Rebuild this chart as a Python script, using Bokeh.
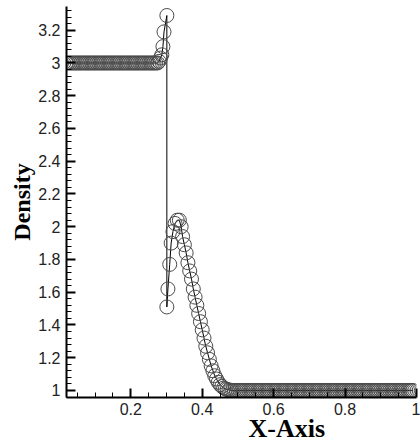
from bokeh.plotting import figure
from bokeh.models import FixedTicker, CustomJSTickFormatter, Title, ColumnDataSource
from bokeh.embed import file_html
from bokeh.resources import INLINE

# --- data ---
x_left_state = [
    0.020, 0.025, 0.030, 0.035, 0.040, 0.045, 0.050, 0.055, 0.060, 0.065, 0.070, 0.075, 0.080,
    0.085, 0.090, 0.095, 0.100, 0.105, 0.110, 0.115, 0.120, 0.125, 0.130, 0.135, 0.140, 0.145,
    0.150, 0.155, 0.160, 0.165, 0.170, 0.175, 0.180, 0.185, 0.190, 0.195, 0.200, 0.205, 0.210,
    0.215, 0.220, 0.225, 0.230, 0.235, 0.240, 0.245, 0.250, 0.255, 0.260, 0.265, 0.270, 0.275,
]
rho_left_state = [
    3.0, 3.0, 3.0, 3.0, 3.0, 3.0, 3.0, 3.0, 3.0, 3.0, 3.0, 3.0, 3.0,
    3.0, 3.0, 3.0, 3.0, 3.0, 3.0, 3.0, 3.0, 3.0, 3.0, 3.0, 3.0, 3.0,
    3.0, 3.0, 3.0, 3.0, 3.0, 3.0, 3.0, 3.0, 3.0, 3.0, 3.0, 3.0, 3.0,
    3.0, 3.0, 3.0, 3.0, 3.0, 3.0, 3.0, 3.0, 3.0, 3.0, 3.0, 3.0, 3.0,
]
x_wave = [
    0.279, 0.283, 0.287, 0.290, 0.293, 0.301, 0.301, 0.304, 0.309, 0.313, 0.318, 0.324,
    0.330, 0.336, 0.341, 0.345, 0.350, 0.355, 0.360, 0.365, 0.370, 0.375, 0.380, 0.385,
    0.390, 0.395, 0.400, 0.405, 0.410, 0.415, 0.420, 0.425, 0.430, 0.435, 0.440, 0.445,
    0.450, 0.455, 0.460, 0.465, 0.470, 0.475, 0.480, 0.485,
]
rho_wave = [
    3.01, 3.03, 3.05, 3.10, 3.19, 3.29, 1.51, 1.62, 1.77, 1.90, 1.97, 2.02,
    2.04, 2.04, 2.00, 1.94, 1.89, 1.84, 1.78, 1.73, 1.68, 1.62, 1.57, 1.52,
    1.47, 1.42, 1.37, 1.32, 1.27, 1.23, 1.19, 1.15, 1.12, 1.09, 1.07, 1.05,
    1.035, 1.025, 1.015, 1.01, 1.006, 1.003, 1.001, 1.0,
]
x_right_state = [
    0.490, 0.495, 0.500, 0.505, 0.510, 0.515, 0.520, 0.525, 0.530, 0.535,
    0.540, 0.545, 0.550, 0.555, 0.560, 0.565, 0.570, 0.575, 0.580, 0.585,
    0.590, 0.595, 0.600, 0.605, 0.610, 0.615, 0.620, 0.625, 0.630, 0.635,
    0.640, 0.645, 0.650, 0.655, 0.660, 0.665, 0.670, 0.675, 0.680, 0.685,
    0.690, 0.695, 0.700, 0.705, 0.710, 0.715, 0.720, 0.725, 0.730, 0.735,
    0.740, 0.745, 0.750, 0.755, 0.760, 0.765, 0.770, 0.775, 0.780, 0.785,
    0.790, 0.795, 0.800, 0.805, 0.810, 0.815, 0.820, 0.825, 0.830, 0.835,
    0.840, 0.845, 0.850, 0.855, 0.860, 0.865, 0.870, 0.875, 0.880, 0.885,
    0.890, 0.895, 0.900, 0.905, 0.910, 0.915, 0.920, 0.925, 0.930, 0.935,
    0.940, 0.945, 0.950, 0.955, 0.960, 0.965, 0.970, 0.975, 0.980, 0.985,
    0.990,
]
rho_right_state = [
    1.0, 1.0, 1.0, 1.0, 1.0, 1.0, 1.0, 1.0, 1.0, 1.0,
    1.0, 1.0, 1.0, 1.0, 1.0, 1.0, 1.0, 1.0, 1.0, 1.0,
    1.0, 1.0, 1.0, 1.0, 1.0, 1.0, 1.0, 1.0, 1.0, 1.0,
    1.0, 1.0, 1.0, 1.0, 1.0, 1.0, 1.0, 1.0, 1.0, 1.0,
    1.0, 1.0, 1.0, 1.0, 1.0, 1.0, 1.0, 1.0, 1.0, 1.0,
    1.0, 1.0, 1.0, 1.0, 1.0, 1.0, 1.0, 1.0, 1.0, 1.0,
    1.0, 1.0, 1.0, 1.0, 1.0, 1.0, 1.0, 1.0, 1.0, 1.0,
    1.0, 1.0, 1.0, 1.0, 1.0, 1.0, 1.0, 1.0, 1.0, 1.0,
    1.0, 1.0, 1.0, 1.0, 1.0, 1.0, 1.0, 1.0, 1.0, 1.0,
    1.0, 1.0, 1.0, 1.0, 1.0, 1.0, 1.0, 1.0, 1.0, 1.0,
    1.0,
]

x_ticks = [0.2, 0.4, 0.6, 0.8, 1.0]
x_minor = [0.05, 0.10, 0.15, 0.25, 0.30, 0.35, 0.45, 0.50, 0.55, 0.65, 0.70, 0.75, 0.85, 0.90, 0.95]
y_ticks = [1.0, 1.2, 1.4, 1.6, 1.8, 2.0, 2.2, 2.4, 2.6, 2.8, 3.0, 3.2]
y_minor = [0.96 + 0.04 * i for i in range(60)]

x_all = x_left_state + x_wave + x_right_state
rho_all = rho_left_state + rho_wave + rho_right_state
src = ColumnDataSource(dict(x=x_all, rho=rho_all))

p = figure(frame_width=350, frame_height=391, x_range=(0.02, 1.0), y_range=(0.957, 3.345),
           output_backend="svg", toolbar_location=None,
           min_border_left=66, min_border_right=4, min_border_top=6, min_border_bottom=49)

p.line("x", "rho", source=src, line_color="black", line_width=1)
p.scatter("x", "rho", source=src, marker="circle", size=14, fill_color=None,
          line_color="#4a4a4a", line_width=1)

p.grid.visible = False
p.outline_line_color = None
p.background_fill_color = "white"
p.border_fill_color = "white"

fmt = CustomJSTickFormatter(code="return Number(tick.toFixed(2)).toString();")
for ax, ticks, minor in ((p.xaxis[0], x_ticks, x_minor), (p.yaxis[0], y_ticks, y_minor)):
    ax.ticker = FixedTicker(ticks=ticks, minor_ticks=minor)
    ax.formatter = fmt
    ax.axis_line_width = 2
    ax.axis_line_color = "black"
    ax.major_tick_in = 9
    ax.major_tick_out = 0
    ax.minor_tick_in = 5
    ax.minor_tick_out = 0
    ax.major_tick_line_width = 2
    ax.major_tick_line_color = "black"
    ax.minor_tick_line_color = "black"
    ax.minor_tick_line_width = 1
    ax.major_label_text_font = "Liberation Sans"
    ax.major_label_text_font_size = "16px"
    ax.major_label_text_color = "#222222"

p.yaxis.major_label_standoff = 6
p.xaxis.major_label_standoff = 5

p.yaxis.axis_label = "Density"
p.yaxis.axis_label_text_font = "Liberation Serif"
p.yaxis.axis_label_text_font_style = "bold"
p.yaxis.axis_label_text_font_size = "24px"
p.yaxis.axis_label_text_color = "black"
p.yaxis.axis_label_standoff = 0

xlab = Title(text="X-Axis", align="left", offset=182, standoff=-8, vertical_align="top",
             text_font="Liberation Serif", text_font_style="bold", text_font_size="26px",
             text_color="black")
p.add_layout(xlab, "below")

open("out.html", "w").write(file_html(p, INLINE))
